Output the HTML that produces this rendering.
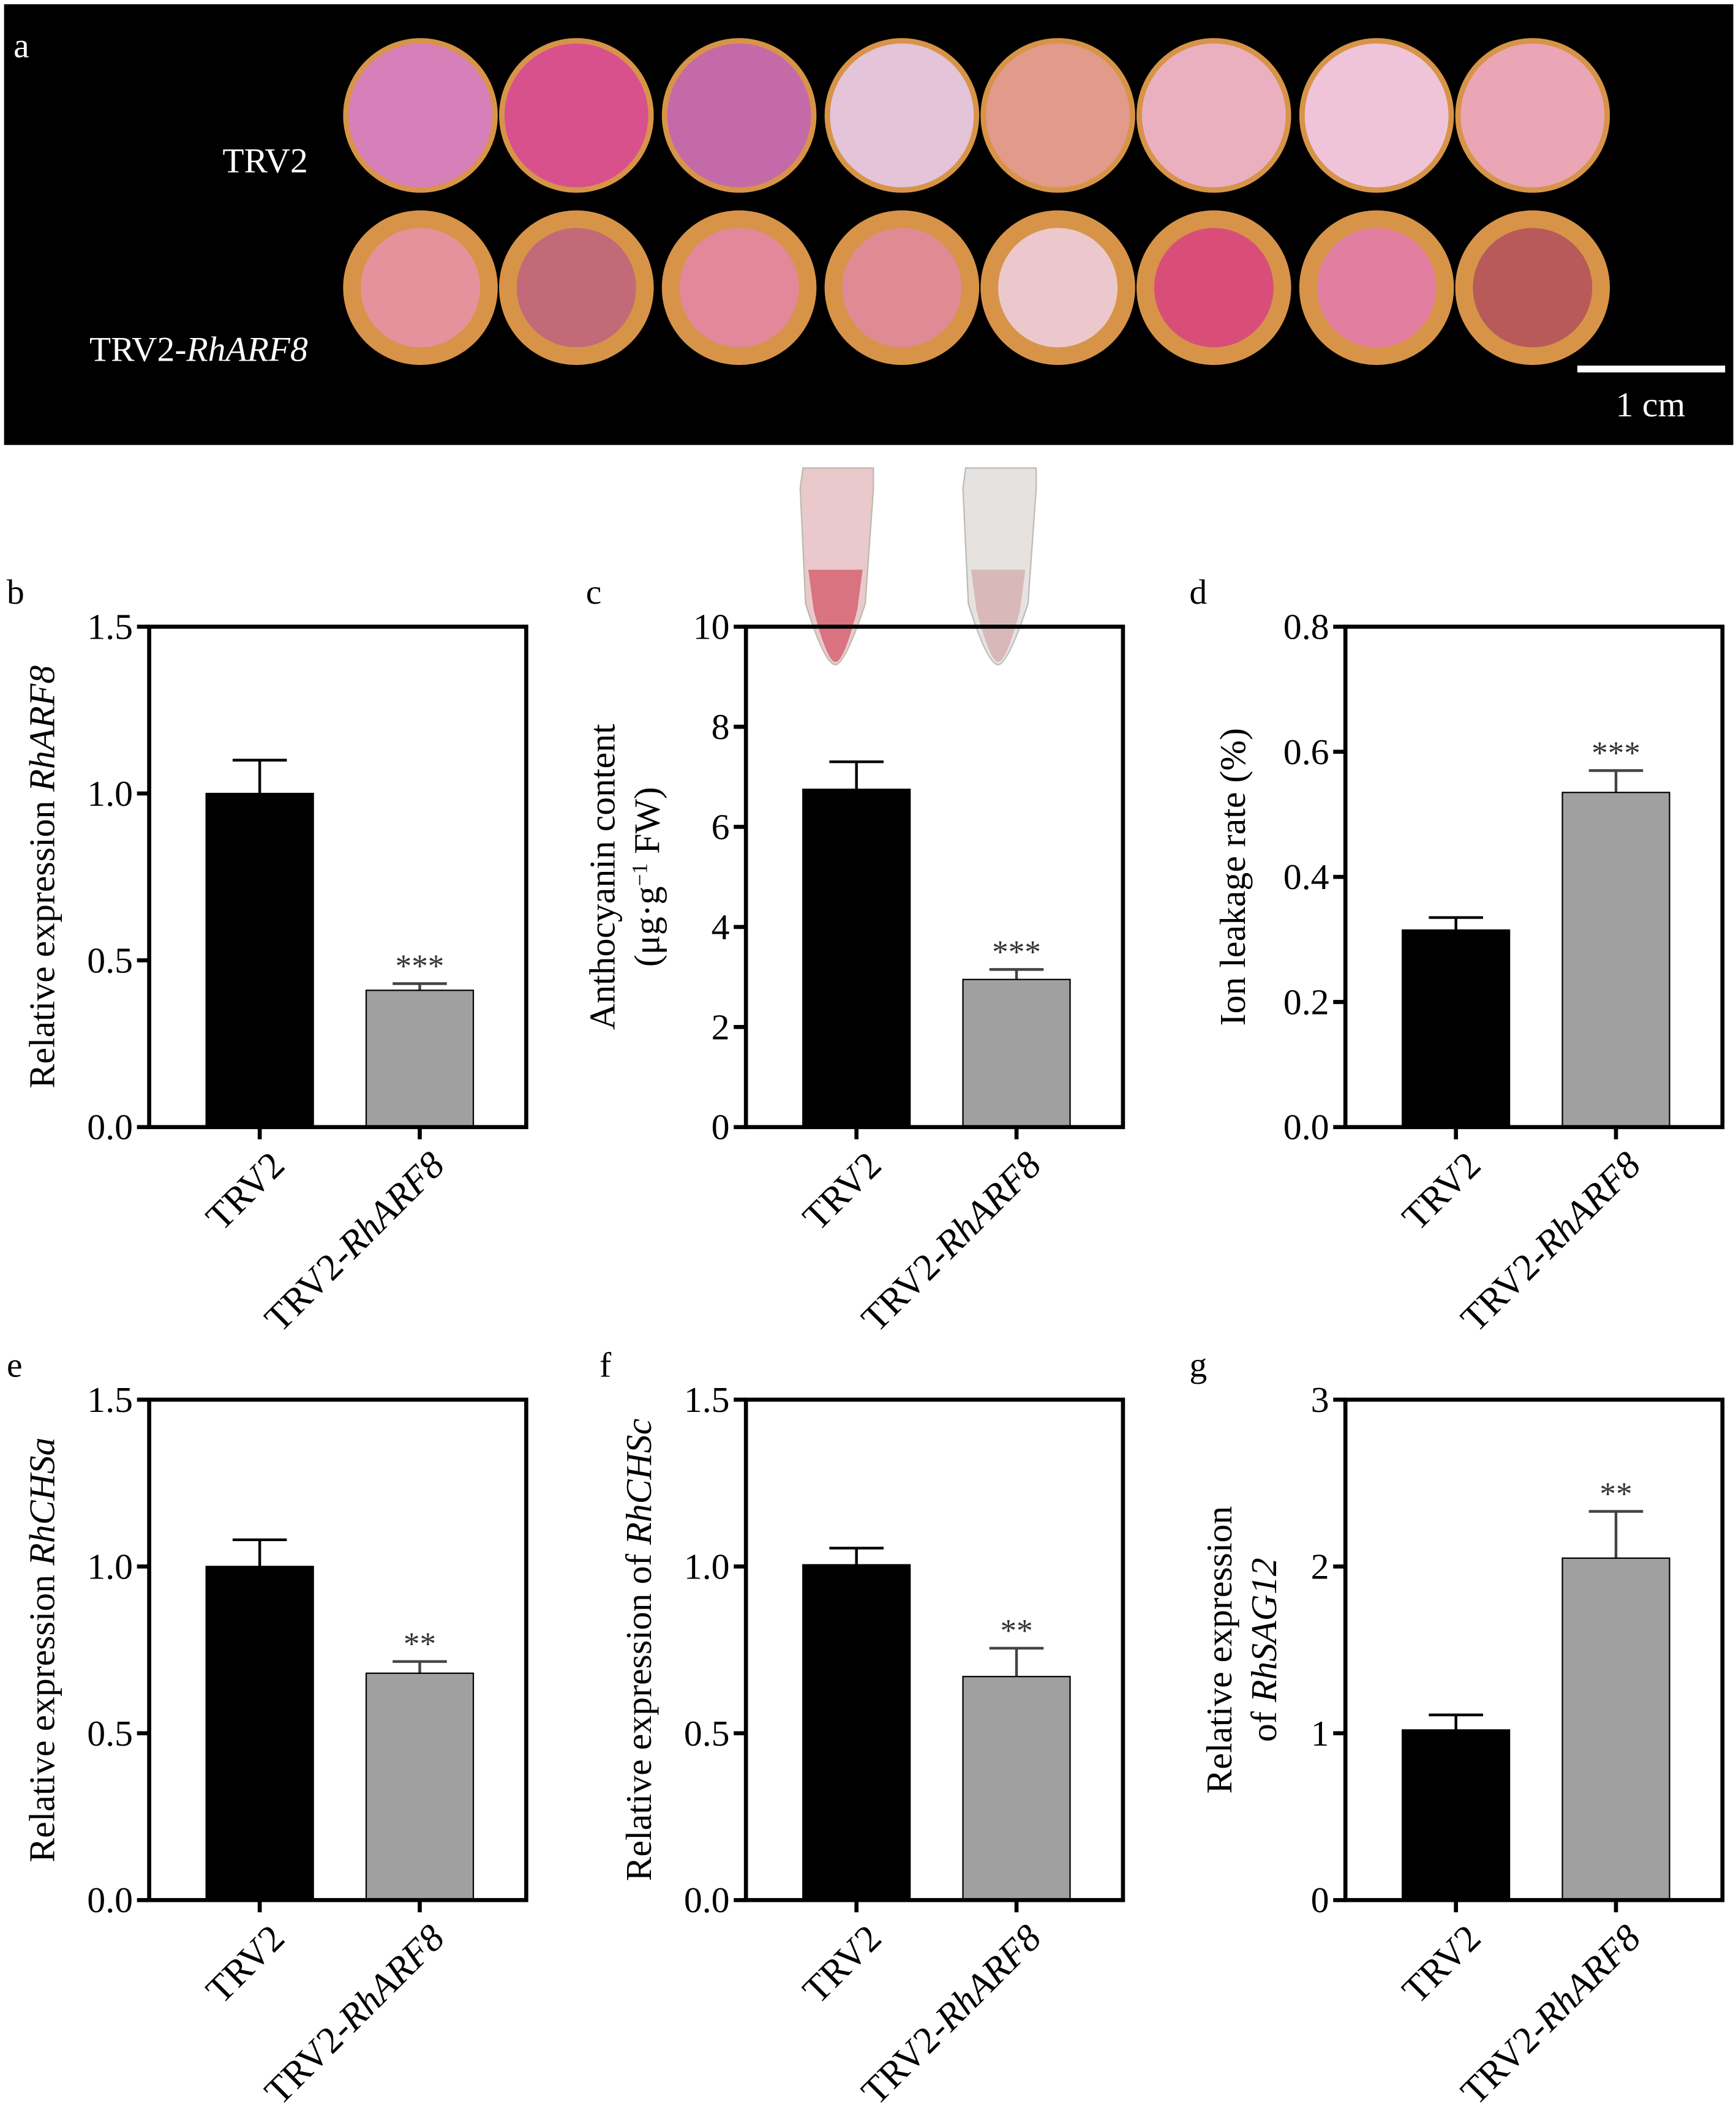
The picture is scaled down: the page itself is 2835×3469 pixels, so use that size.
<!DOCTYPE html>
<html><head><meta charset="utf-8"><style>
html,body{margin:0;padding:0;background:#fff;}
svg{display:block;}
svg text{font-family:"Liberation Serif","Times New Roman",serif;}
</style></head><body>
<svg id="fig" width="2835" height="3469" viewBox="0 0 1280 1566" xmlns="http://www.w3.org/2000/svg" font-family="Liberation Serif, Times New Roman, serif">
<g id="panelA">
<rect x="3" y="3" width="1275" height="325" fill="#000"/>
<text x="10" y="42" font-size="26" fill="#fff">a</text>
<text x="227" y="127" font-size="26" fill="#fff" text-anchor="end">TRV2</text>
<text x="227" y="266" font-size="26" fill="#fff" text-anchor="end">TRV2-<tspan font-style="italic">RhARF8</tspan></text>
<line x1="1163" y1="272" x2="1272" y2="272" stroke="#fff" stroke-width="5"/>
<text x="1217" y="307" font-size="26" fill="#fff" text-anchor="middle">1 cm</text>
</g>
<g id="tubes">
<path d="M592 345 h52 v15 l-6 85 q-15 45 -22 45 q-8 0 -22 -45 l-4 -85z" fill="#e9c9cc" stroke="#bba" stroke-width="1"/>
<path d="M596 420 h40 l-4 30 q-10 38 -16 38 q-6 0 -16 -38z" fill="#d9737f"/>
<path d="M712 345 h52 v15 l-6 85 q-15 45 -22 45 q-8 0 -22 -45 l-4 -85z" fill="#e6e2e0" stroke="#bbb" stroke-width="1"/>
<path d="M716 420 h40 l-4 30 q-10 38 -16 38 q-6 0 -16 -38z" fill="#d8b8b8"/>
</g>
<g id="charts"></g>
</svg>
<script>
const NS="http://www.w3.org/2000/svg";
function mk(parent,tag,attrs){const e=document.createElementNS(NS,tag);for(const k in attrs)e.setAttribute(k,attrs[k]);parent.appendChild(e);return e;}
const discRowY=[85,212];
const discX=[310,425,545,665,780,895,1015,1130];
const discColsTop=["#d77fb8","#d8508c","#c56aa8","#e4c4d8","#e29a8a","#ebb0c0","#f0c4d8","#eaa6b4"];
const discColsBot=["#e4929c","#c26a78","#e2889a","#e08a94","#ecc8cc","#d84e78","#e27ea0","#b85a5a"];
const pa=document.getElementById('panelA');
discRowY.forEach((cy,r)=>{discX.forEach((cx,i)=>{
 const d=mk(pa,'circle',{cx:cx,cy:cy,r:57,fill:'#d79448'});
 
 
 const inner=mk(pa,'circle',{cx:cx,cy:cy,r:r==0?53:44,fill:(r==0?discColsTop:discColsBot)[i]});
 
 
});});

const categories=["TRV2","TRV2-RhARF8"];
const bVals=[1.0,0.41], bErr=[1.1,0.43], bTicks=["0.0","0.5","1.0","1.5"], bSig="***";
const cVals=[6.75,2.95], cErr=[7.3,3.15], cTicks=["0","2","4","6","8","10"], cSig="***";
const dVals=[0.315,0.535], dErr=[0.335,0.57], dTicks=["0.0","0.2","0.4","0.6","0.8"], dSig="***";
const eVals=[1.0,0.68], eErr=[1.08,0.715], eTicks=["0.0","0.5","1.0","1.5"], eSig="**";
const fVals=[1.005,0.67], fErr=[1.055,0.755], fTicks=["0.0","0.5","1.0","1.5"], fSig="**";
const gVals=[1.02,2.05], gErr=[1.11,2.33], gTicks=["0","1","2","3"], gSig="**";

const panels=[
 {id:'b',x:110,y:462,vals:bVals,err:bErr,ticks:bTicks,max:1.5,sig:bSig,lx:5,title:['Relative expression <tspan font-style="italic">RhARF8</tspan>'],tx:[40]},
 {id:'c',x:550,y:462,vals:cVals,err:cErr,ticks:cTicks,max:10,sig:cSig,lx:432,title:['Anthocyanin content','(μg·g<tspan baseline-shift="super" font-size="16">−1</tspan> FW)'],tx:[453,486]},
 {id:'d',x:992,y:462,vals:dVals,err:dErr,ticks:dTicks,max:0.8,sig:dSig,lx:877,title:['Ion leakage rate (%)'],tx:[918]},
 {id:'e',x:110,y:1032,vals:eVals,err:eErr,ticks:eTicks,max:1.5,sig:eSig,lx:5,title:['Relative expression <tspan font-style="italic">RhCHSa</tspan>'],tx:[40]},
 {id:'f',x:550,y:1032,vals:fVals,err:fErr,ticks:fTicks,max:1.5,sig:fSig,lx:442,title:['Relative expression of <tspan font-style="italic">RhCHSc</tspan>'],tx:[480]},
 {id:'g',x:992,y:1032,vals:gVals,err:gErr,ticks:gTicks,max:3,sig:gSig,lx:877,title:['Relative expression','of <tspan font-style="italic">RhSAG12</tspan>'],tx:[908,941]}
];
const W=278,H=369,barW=79,centers=[81.5,199.5];
const charts=document.getElementById('charts');
panels.forEach(p=>{
 const g=mk(charts,'g',{});
 
 
 const ys=v=>p.y+H-v/p.max*H;
 const lab=mk(g,'text',{x:p.lx,y:p.y-17,'font-size':26});lab.textContent=p.id;
 
 
 p.vals.forEach((v,i)=>{
  const cx=p.x+centers[i];
  const e=mk(g,'path',{d:`M${cx} ${ys(v)}V${ys(p.err[i])}M${cx-20} ${ys(p.err[i])}H${cx+20}`,stroke:i==0?'#000':'#444','stroke-width':2,fill:'none'});
  
  
  const r=mk(g,'rect',{x:cx-barW/2,y:ys(v),width:barW,height:ys(0)-ys(v),fill:i==0?'#000':'#a0a0a0',stroke:'#000','stroke-width':1});
  
  
  mk(g,'line',{x1:cx,y1:p.y+H,x2:cx,y2:p.y+H+9,stroke:'#000','stroke-width':3});
  const lx=cx+6, ly=p.y+H+16;
  const t=mk(g,'text',{x:lx,y:ly,'font-size':28,'text-anchor':'end',transform:`rotate(-45 ${lx} ${ly})`,'dominant-baseline':'hanging'});
  t.innerHTML=i==0?'TRV2':'TRV2-<tspan font-style="italic">RhARF8</tspan>';
  
  
 });
 const s=mk(g,'text',{x:p.x+centers[1],y:ys(p.err[1])-5,'font-size':24,'text-anchor':'middle',fill:'#333'});
 s.textContent=p.sig;
 
 
 const box=mk(g,'rect',{x:p.x,y:p.y,width:W,height:H,fill:'none',stroke:'#000','stroke-width':3});
 
 
 p.ticks.forEach(tl=>{
  const y=ys(parseFloat(tl));
  mk(g,'line',{x1:p.x-9,y1:y,x2:p.x,y2:y,stroke:'#000','stroke-width':3});
  const t=mk(g,'text',{x:p.x-12,y:y+9,'font-size':27,'text-anchor':'end'});t.textContent=tl;
  
  
 });
 p.title.forEach((tt,k)=>{
  const cx=p.tx[k], cy=p.y+H/2;
  const t=mk(g,'text',{x:cx,y:cy,'font-size':27,'text-anchor':'middle',transform:`rotate(-90 ${cx} ${cy})`});
  t.innerHTML=tt;
  
  
 });
});
</script>
</body></html>
